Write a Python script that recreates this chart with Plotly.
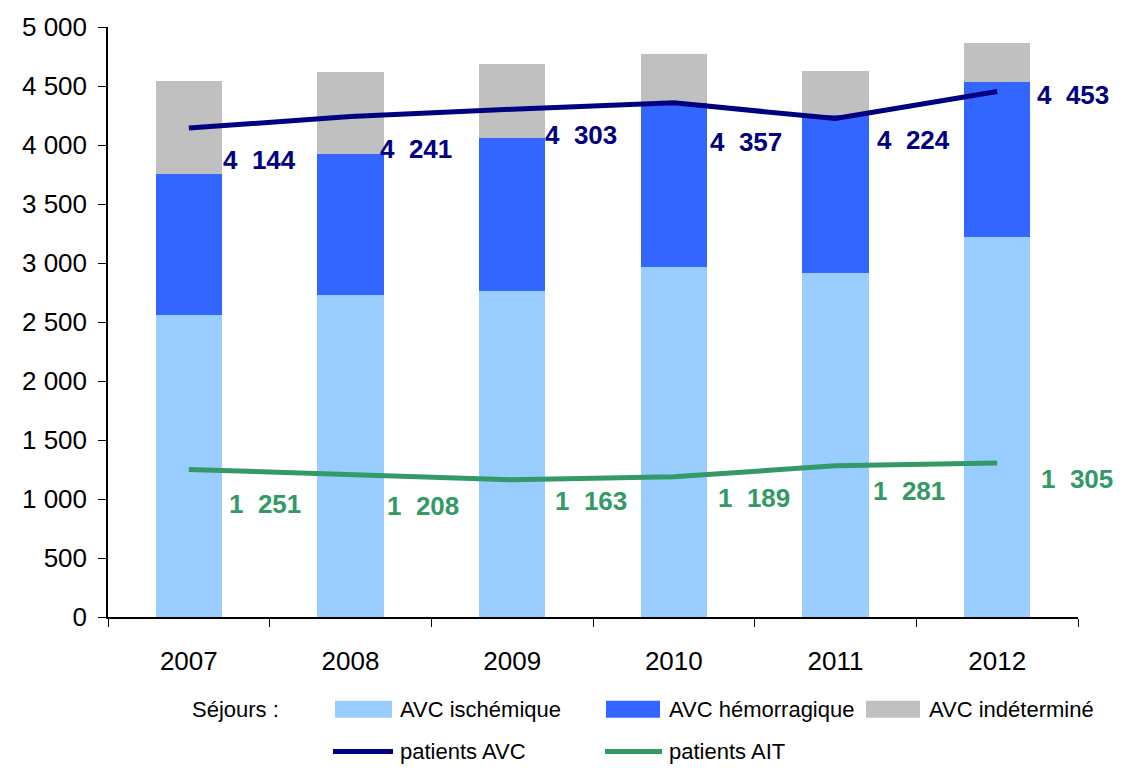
import plotly.graph_objects as go

# Data
years = ['2007', '2008', '2009', '2010', '2011', '2012']
avc_ischemique = [2560, 2728, 2762, 2965, 2917, 3220]
avc_hemorragique = [1198, 1199, 1300, 1387, 1337, 1315]
avc_indetermine = [786, 693, 626, 420, 374, 330]
patients_avc = [4144, 4241, 4303, 4357, 4224, 4453]
patients_ait = [1251, 1208, 1163, 1189, 1281, 1305]

# label offsets in pixels (right, down) as placed in the original
avc_label_dx = [71, 65, 69, 72, 78, 76]
avc_label_dy = [32, 32, 26, 39, 21, 3]
ait_label_dx = [76, 72, 79, 80, 73, 80]
ait_label_dy = [35, 32, 21, 21, 25, 16]

W, H = 1127, 768
ML, MR, MT, MB = 108, 49, 25, 151
PW, PH = W - ML - MR, H - MT - MB

C_ISCH = '#99CCFF'
C_HEMO = '#3366FF'
C_INDET = '#C0C0C0'
C_AVC = '#000080'
C_AIT = '#339966'

FONT = 'Liberation Sans, Arial, sans-serif'


def fmt(v):
    return f'{v:,}'.replace(',', '\u00a0\u00a0')


def px(x):
    return (x - ML) / PW


def py(y):
    return (H - MB - y) / PH


fig = go.Figure()

for vals, color, name in [(avc_ischemique, C_ISCH, 'AVC ischémique'),
                          (avc_hemorragique, C_HEMO, 'AVC hémorragique'),
                          (avc_indetermine, C_INDET, 'AVC indéterminé')]:
    fig.add_trace(go.Bar(x=years, y=vals, name=name, marker=dict(color=color, line=dict(width=0)),
                         width=0.41, showlegend=False))

fig.add_trace(go.Scatter(x=years, y=patients_avc, mode='lines', name='patients AVC',
                         line=dict(color=C_AVC, width=5), showlegend=False, cliponaxis=False))
fig.add_trace(go.Scatter(x=years, y=patients_ait, mode='lines', name='patients AIT',
                         line=dict(color=C_AIT, width=5), showlegend=False, cliponaxis=False))

annotations = []
for vals, dxs, dys, color in [(patients_avc, avc_label_dx, avc_label_dy, C_AVC),
                              (patients_ait, ait_label_dx, ait_label_dy, C_AIT)]:
    for i, (v, dx, dy) in enumerate(zip(vals, dxs, dys)):
        # category index, so '2007' is not read as a number
        annotations.append(dict(x=i, y=v, xref='x', yref='y', text='<b>' + fmt(v) + '</b>',
                                showarrow=False, xshift=dx, yshift=-dy, xanchor='center',
                                yanchor='middle', font=dict(family=FONT, size=26, color=color)))

# manual legend, laid out like the original
leg_font = dict(family=FONT, size=22, color='black')
annotations.append(dict(x=px(190), y=py(710), xref='paper', yref='paper', text='Séjours :',
                        showarrow=False, xanchor='left', yanchor='middle', font=leg_font))
shapes = []
for (x0, x1, tx), color, name in zip([(335, 392, 398), (606, 660, 667), (866, 920, 927)],
                                     [C_ISCH, C_HEMO, C_INDET],
                                     ['AVC ischémique', 'AVC hémorragique', 'AVC indéterminé']):
    shapes.append(dict(type='rect', xref='paper', yref='paper', x0=px(x0), x1=px(x1),
                       y0=py(718), y1=py(701), fillcolor=color, line=dict(width=0)))
    annotations.append(dict(x=px(tx), y=py(710), xref='paper', yref='paper', text=name,
                            showarrow=False, xanchor='left', yanchor='middle', font=leg_font))
for (x0, x1, tx), color, name in zip([(333, 393, 398), (605, 662, 667)],
                                     [C_AVC, C_AIT], ['patients AVC', 'patients AIT']):
    shapes.append(dict(type='line', xref='paper', yref='paper', x0=px(x0), x1=px(x1),
                       y0=py(752), y1=py(752), line=dict(color=color, width=5)))
    annotations.append(dict(x=px(tx), y=py(752), xref='paper', yref='paper', text=name,
                            showarrow=False, xanchor='left', yanchor='middle', font=leg_font))

fig.update_layout(
    barmode='stack',
    width=W, height=H,
    margin=dict(l=ML, r=MR, t=MT, b=MB),
    paper_bgcolor='white', plot_bgcolor='white',
    separators=', ',
    showlegend=False,
    annotations=annotations,
    shapes=shapes,
    font=dict(family=FONT, color='black'),
)

fig.update_xaxes(type='category', range=[-0.5, len(years) - 0.5], showline=True,
                 linecolor='black', linewidth=1.5, ticks='outside', tickson='boundaries',
                 ticklen=8, tickcolor='black', ticklabelstandoff=20,
                 tickfont=dict(family=FONT, size=26), showgrid=False)
fig.update_yaxes(range=[0, 5000], dtick=500, tickformat=',d', showline=True, linecolor='black',
                 linewidth=1.5, ticks='outside', ticklen=8, tickcolor='black',
                 ticklabelstandoff=6, tickfont=dict(family=FONT, size=26), showgrid=False,
                 zeroline=False)

# drop the default page margin so the figure sits at the window's corner
fig.write_html('out.html', config={'displayModeBar': False},
               post_script="document.body.style.margin='0';")
